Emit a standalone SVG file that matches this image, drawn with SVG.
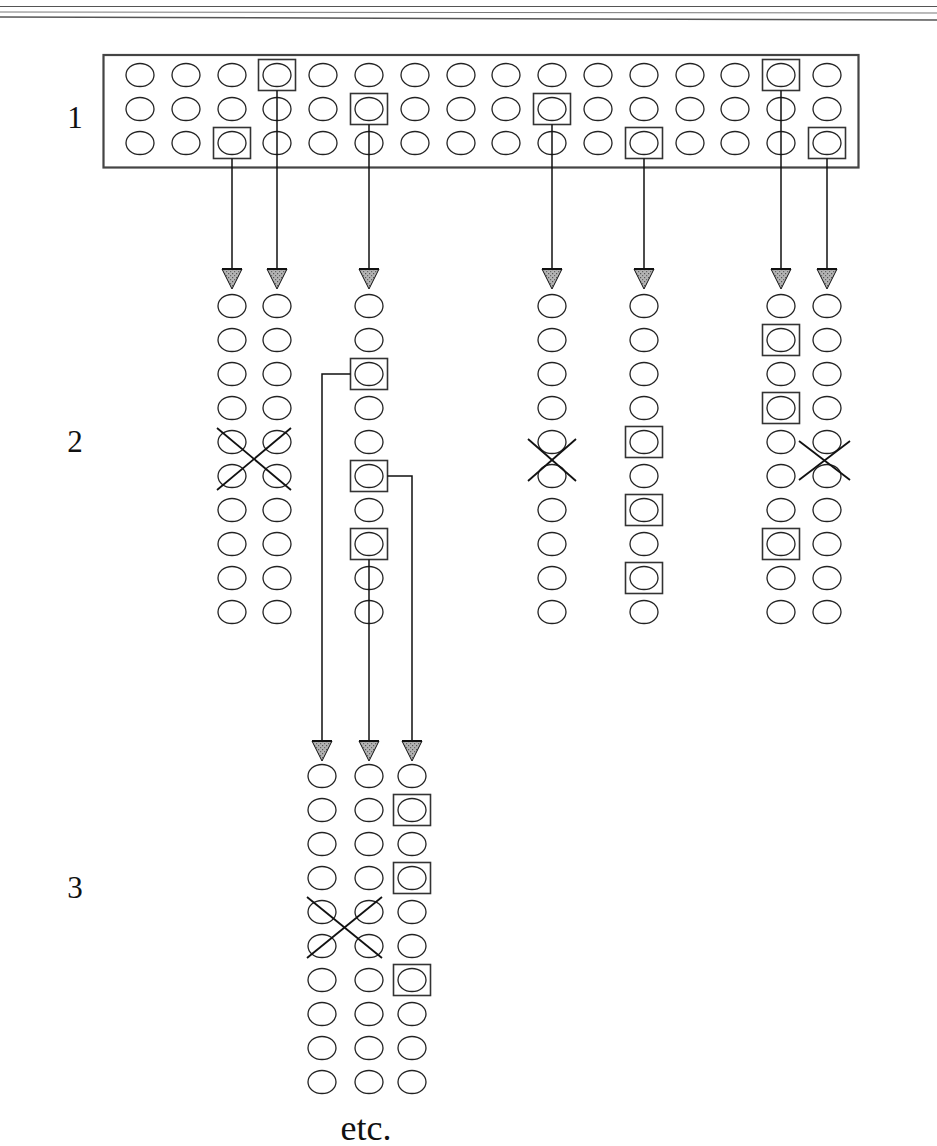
<svg xmlns="http://www.w3.org/2000/svg" xmlns:xlink="http://www.w3.org/1999/xlink" width="937" height="1146" viewBox="0 0 937 1146">
<style>
.c{fill:none;stroke:#222;stroke-width:1.3}
.b{fill:none;stroke:#333;stroke-width:1.6}
.ln{fill:none;stroke:#111;stroke-width:1.5}
.x{fill:none;stroke:#111;stroke-width:1.8}
.ah{fill:url(#stip);stroke:#111;stroke-width:1}
.aht{stroke:#111;stroke-width:2}
.lbl{font-family:"Liberation Serif","Times New Roman",serif;font-size:31px;fill:#111;text-anchor:middle}
.rule{stroke:#555;fill:none}
</style>
<defs>
<pattern id="stip" width="4" height="4" patternUnits="userSpaceOnUse">
<rect width="4" height="4" fill="#b4b4b4"/>
<rect x="0" y="0" width="1.2" height="1.2" fill="#555"/>
<rect x="2" y="2" width="1.2" height="1.2" fill="#666"/>
</pattern>
<ellipse id="c" class="c" cx="0" cy="0" rx="14" ry="11.5"/>
<rect id="b" class="b" x="-18.5" y="-15.5" width="37" height="31"/>
<g id="ah"><path class="ah" d="M-10,0 L10,0 L0,20 Z"/><line class="aht" x1="-10" y1="0" x2="10" y2="0"/></g>
</defs>
<rect width="937" height="1146" fill="#fff"/>
<g id="rules">
<line class="rule" x1="0" y1="6.5" x2="937" y2="6.5" stroke-width="1.2"/>
<line class="rule" x1="0" y1="12" x2="937" y2="13" stroke-width="0.8" stroke="#999"/>
<line class="rule" x1="0" y1="17" x2="937" y2="20" stroke-width="1.5"/>
</g>
<g id="labels">
<text class="lbl" x="75" y="128">1</text>
<text class="lbl" x="75" y="452">2</text>
<text class="lbl" x="75" y="898">3</text>
<text class="lbl" x="366" y="1140" style="font-size:36px">etc.</text>
</g>
<g id="panel-1">
<rect x="103.5" y="55" width="755" height="112.5" fill="none" stroke="#444" stroke-width="2.2"/>
<use href="#c" x="140" y="75"/><use href="#c" x="186" y="75"/><use href="#c" x="232" y="75"/><use href="#c" x="277" y="75"/><use href="#c" x="323" y="75"/><use href="#c" x="369" y="75"/><use href="#c" x="415" y="75"/><use href="#c" x="461" y="75"/><use href="#c" x="506" y="75"/><use href="#c" x="552" y="75"/><use href="#c" x="598" y="75"/><use href="#c" x="644" y="75"/><use href="#c" x="690" y="75"/><use href="#c" x="735" y="75"/><use href="#c" x="781" y="75"/><use href="#c" x="827" y="75"/>
<use href="#c" x="140" y="109"/><use href="#c" x="186" y="109"/><use href="#c" x="232" y="109"/><use href="#c" x="277" y="109"/><use href="#c" x="323" y="109"/><use href="#c" x="369" y="109"/><use href="#c" x="415" y="109"/><use href="#c" x="461" y="109"/><use href="#c" x="506" y="109"/><use href="#c" x="552" y="109"/><use href="#c" x="598" y="109"/><use href="#c" x="644" y="109"/><use href="#c" x="690" y="109"/><use href="#c" x="735" y="109"/><use href="#c" x="781" y="109"/><use href="#c" x="827" y="109"/>
<use href="#c" x="140" y="143"/><use href="#c" x="186" y="143"/><use href="#c" x="232" y="143"/><use href="#c" x="277" y="143"/><use href="#c" x="323" y="143"/><use href="#c" x="369" y="143"/><use href="#c" x="415" y="143"/><use href="#c" x="461" y="143"/><use href="#c" x="506" y="143"/><use href="#c" x="552" y="143"/><use href="#c" x="598" y="143"/><use href="#c" x="644" y="143"/><use href="#c" x="690" y="143"/><use href="#c" x="735" y="143"/><use href="#c" x="781" y="143"/><use href="#c" x="827" y="143"/>
<use href="#b" x="277" y="75"/><use href="#b" x="781" y="75"/><use href="#b" x="369" y="109"/><use href="#b" x="552" y="109"/><use href="#b" x="232" y="143"/><use href="#b" x="644" y="143"/><use href="#b" x="827" y="143"/>
</g>
<g id="col-2a">
<use href="#c" x="232" y="306"/><use href="#c" x="232" y="340"/><use href="#c" x="232" y="374"/><use href="#c" x="232" y="408"/><use href="#c" x="232" y="442"/><use href="#c" x="232" y="476"/><use href="#c" x="232" y="510"/><use href="#c" x="232" y="544"/><use href="#c" x="232" y="578"/><use href="#c" x="232" y="612"/>
</g>
<g id="col-2b">
<use href="#c" x="277" y="306"/><use href="#c" x="277" y="340"/><use href="#c" x="277" y="374"/><use href="#c" x="277" y="408"/><use href="#c" x="277" y="442"/><use href="#c" x="277" y="476"/><use href="#c" x="277" y="510"/><use href="#c" x="277" y="544"/><use href="#c" x="277" y="578"/><use href="#c" x="277" y="612"/>
</g>
<g id="cross-2ab">
<line class="x" x1="217" y1="428" x2="291" y2="490"/><line class="x" x1="217" y1="490" x2="291" y2="428"/>
</g>
<g id="col-2c">
<use href="#c" x="369" y="306"/><use href="#c" x="369" y="340"/><use href="#c" x="369" y="374"/><use href="#c" x="369" y="408"/><use href="#c" x="369" y="442"/><use href="#c" x="369" y="476"/><use href="#c" x="369" y="510"/><use href="#c" x="369" y="544"/><use href="#c" x="369" y="578"/><use href="#c" x="369" y="612"/>
<use href="#b" x="369" y="374"/><use href="#b" x="369" y="476"/><use href="#b" x="369" y="544"/>
</g>
<g id="col-2d">
<use href="#c" x="552" y="306"/><use href="#c" x="552" y="340"/><use href="#c" x="552" y="374"/><use href="#c" x="552" y="408"/><use href="#c" x="552" y="442"/><use href="#c" x="552" y="476"/><use href="#c" x="552" y="510"/><use href="#c" x="552" y="544"/><use href="#c" x="552" y="578"/><use href="#c" x="552" y="612"/>
<line class="x" x1="528" y1="439" x2="576" y2="481"/><line class="x" x1="528" y1="481" x2="576" y2="439"/>
</g>
<g id="col-2e">
<use href="#c" x="644" y="306"/><use href="#c" x="644" y="340"/><use href="#c" x="644" y="374"/><use href="#c" x="644" y="408"/><use href="#c" x="644" y="442"/><use href="#c" x="644" y="476"/><use href="#c" x="644" y="510"/><use href="#c" x="644" y="544"/><use href="#c" x="644" y="578"/><use href="#c" x="644" y="612"/>
<use href="#b" x="644" y="442"/><use href="#b" x="644" y="510"/><use href="#b" x="644" y="578"/>
</g>
<g id="col-2f">
<use href="#c" x="781" y="306"/><use href="#c" x="781" y="340"/><use href="#c" x="781" y="374"/><use href="#c" x="781" y="408"/><use href="#c" x="781" y="442"/><use href="#c" x="781" y="476"/><use href="#c" x="781" y="510"/><use href="#c" x="781" y="544"/><use href="#c" x="781" y="578"/><use href="#c" x="781" y="612"/>
<use href="#b" x="781" y="340"/><use href="#b" x="781" y="408"/><use href="#b" x="781" y="544"/>
</g>
<g id="col-2g">
<use href="#c" x="827" y="306"/><use href="#c" x="827" y="340"/><use href="#c" x="827" y="374"/><use href="#c" x="827" y="408"/><use href="#c" x="827" y="442"/><use href="#c" x="827" y="476"/><use href="#c" x="827" y="510"/><use href="#c" x="827" y="544"/><use href="#c" x="827" y="578"/><use href="#c" x="827" y="612"/>
<line class="x" x1="799" y1="441" x2="850" y2="480"/><line class="x" x1="799" y1="480" x2="850" y2="441"/>
</g>
<g id="col-3a">
<use href="#c" x="322" y="776"/><use href="#c" x="322" y="810"/><use href="#c" x="322" y="844"/><use href="#c" x="322" y="878"/><use href="#c" x="322" y="912"/><use href="#c" x="322" y="946"/><use href="#c" x="322" y="980"/><use href="#c" x="322" y="1014"/><use href="#c" x="322" y="1048"/><use href="#c" x="322" y="1082"/>
</g>
<g id="col-3b">
<use href="#c" x="369" y="776"/><use href="#c" x="369" y="810"/><use href="#c" x="369" y="844"/><use href="#c" x="369" y="878"/><use href="#c" x="369" y="912"/><use href="#c" x="369" y="946"/><use href="#c" x="369" y="980"/><use href="#c" x="369" y="1014"/><use href="#c" x="369" y="1048"/><use href="#c" x="369" y="1082"/>
</g>
<g id="cross-3ab">
<line class="x" x1="307" y1="897" x2="382" y2="958"/><line class="x" x1="307" y1="958" x2="382" y2="897"/>
</g>
<g id="col-3c">
<use href="#c" x="412" y="776"/><use href="#c" x="412" y="810"/><use href="#c" x="412" y="844"/><use href="#c" x="412" y="878"/><use href="#c" x="412" y="912"/><use href="#c" x="412" y="946"/><use href="#c" x="412" y="980"/><use href="#c" x="412" y="1014"/><use href="#c" x="412" y="1048"/><use href="#c" x="412" y="1082"/>
<use href="#b" x="412" y="810"/><use href="#b" x="412" y="878"/><use href="#b" x="412" y="980"/>
</g>
<g id="connectors">
<line class="ln" x1="232" y1="158.5" x2="232" y2="269"/>
<line class="ln" x1="277" y1="90.5" x2="277" y2="269"/>
<line class="ln" x1="369" y1="124.5" x2="369" y2="269"/>
<line class="ln" x1="552" y1="124.5" x2="552" y2="269"/>
<line class="ln" x1="644" y1="158.5" x2="644" y2="269"/>
<line class="ln" x1="781" y1="90.5" x2="781" y2="269"/>
<line class="ln" x1="827" y1="158.5" x2="827" y2="269"/>
<use href="#ah" x="232" y="269"/><use href="#ah" x="277" y="269"/><use href="#ah" x="369" y="269"/><use href="#ah" x="552" y="269"/><use href="#ah" x="644" y="269"/><use href="#ah" x="781" y="269"/><use href="#ah" x="827" y="269"/>
<polyline class="ln" points="350.5,374 322,374 322,741"/>
<polyline class="ln" points="387.5,476 412,476 412,741"/>
<line class="ln" x1="369" y1="559.5" x2="369" y2="741"/>
<use href="#ah" x="322" y="741"/><use href="#ah" x="369" y="741"/><use href="#ah" x="412" y="741"/>
</g>
</svg>
